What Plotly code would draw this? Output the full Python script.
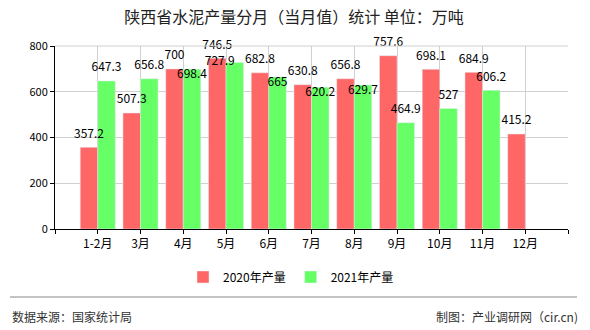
import plotly.graph_objects as go

categories = ["1-2月", "3月", "4月", "5月", "6月", "7月", "8月", "9月", "10月", "11月", "12月"]
values_2020 = [357.2, 507.3, 700, 746.5, 682.8, 630.8, 656.8, 757.6, 698.1, 684.9, 415.2]
values_2021 = [647.3, 656.8, 698.4, 727.9, 665, 620.2, 629.7, 464.9, 527, 606.2, None]
series_names = ["2020年产量", "2021年产量"]
y_ticks = [0, 200, 400, 600, 800]

RED = "#FF6666"
GREEN = "#66FF66"
FONT = "Noto Sans CJK SC, Noto Sans, sans-serif"

idx = list(range(len(categories)))

def fmt(v):
    if v is None:
        return ""
    return ("%g" % v)

# label placement styles (the reference pushes colliding labels aside)
pos_2020 = ["top center"] * len(categories)
pos_2021 = ["top center", "top center", "bottom center", "middle left", "bottom center",
            "bottom center", "bottom center", "top center", "top center", "top center",
            "top center"]

def pad_sizes(pos):
    return [9 if p == "top center" else 0 for p in pos]

fig = go.Figure()
for vals, name, col, grp in [(values_2020, series_names[0], RED, "a"),
                             (values_2021, series_names[1], GREEN, "b")]:
    fig.add_trace(go.Bar(
        x=idx, y=vals, name=name, marker_color=col,
        offsetgroup=grp, alignmentgroup="g", hoverinfo="y",
    ))
for vals, grp, pos in [(values_2020, "a", pos_2020), (values_2021, "b", pos_2021)]:
    fig.add_trace(go.Scatter(
        x=idx, y=vals, mode="markers+text", text=[fmt(v) for v in vals],
        marker=dict(size=pad_sizes(pos), color="rgba(0,0,0,0)", line=dict(width=0)),
        textposition=pos, showlegend=False, hoverinfo="skip",
        offsetgroup=grp, alignmentgroup="g", cliponaxis=False,
        textfont=dict(family=FONT, size=12, color="#000"),
    ))

n = len(categories)
fig.update_layout(
    width=590, height=330,
    margin=dict(l=55, r=22, t=46, b=101),
    paper_bgcolor="white", plot_bgcolor="white",
    barmode="group", bargap=0.18, bargroupgap=0,
    scattermode="group", scattergap=0.18,
    font=dict(family=FONT, size=12, color="#000"),
    title=dict(text="陕西省水泥产量分月（当月值）统计 单位：万吨",
               x=294/590, xanchor="center", y=1 - 17/330, yanchor="middle",
               font=dict(family=FONT, size=16, color="#222")),
    showlegend=True,
    legend=dict(orientation="h", x=(291-55)/513, xanchor="center", y=-(277-229)/183, yanchor="middle",
                font=dict(family=FONT, size=12, color="#000"),
                itemwidth=30, traceorder="normal"),
    xaxis=dict(
        range=[-1, n + 0.0], tickmode="array",
        tickvals=list(range(-1, n + 1)),
        ticktext=[""] + categories + [""],
        showgrid=True, gridcolor="#d0d0d0", gridwidth=1,
        showline=True, linecolor="#000", linewidth=1,
        ticks="outside", ticklen=4, tickcolor="#000",
        tickfont=dict(family=FONT, size=12, color="#000"),
        zeroline=False,
    ),
    yaxis=dict(
        range=[0, 800], tickmode="array", tickvals=y_ticks,
        showgrid=True, gridcolor="#d0d0d0", gridwidth=1,
        showline=True, linecolor="#000", linewidth=1,
        ticks="outside", ticklen=4, tickcolor="#000",
        tickfont=dict(family=FONT, size=11, color="#000"),
        zeroline=False,
    ),
    shapes=[
        dict(type="line", xref="paper", yref="paper", x0=0, x1=1, y0=1, y1=1,
             line=dict(color="#d0d0d0", width=1)),
        dict(type="line", xref="paper", yref="paper",
             x0=-45/513, x1=(577-55)/513, y0=-(297-229)/183, y1=-(297-229)/183,
             line=dict(color="#888", width=1)),
    ],
    annotations=[
        dict(text="数据来源：国家统计局", xref="paper", yref="paper",
             x=-45/513, y=-(316-229)/183, xanchor="left", yanchor="middle",
             showarrow=False, font=dict(family=FONT, size=12, color="#333")),
        dict(text="制图：产业调研网（cir.cn)", xref="paper", yref="paper",
             x=(580-55)/513, y=-(316-229)/183, xanchor="right", yanchor="middle",
             showarrow=False, font=dict(family=FONT, size=12, color="#333")),
    ],
)

fig.write_html("out.html")
